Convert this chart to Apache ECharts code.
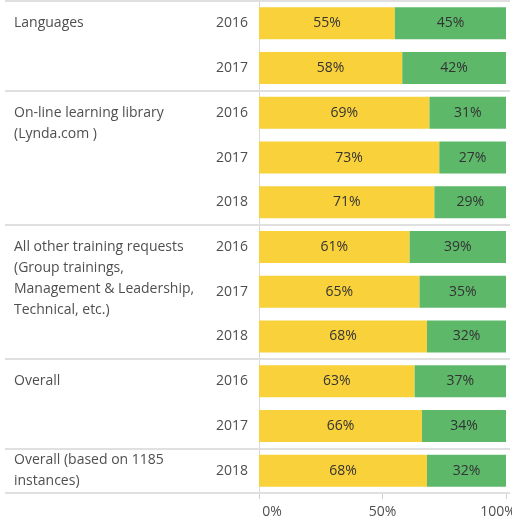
<!DOCTYPE html>
<html>
<head>
<meta charset="utf-8">
<script src="https://cdn.jsdelivr.net/npm/echarts@6/dist/echarts.min.js"></script>
<style>
  html, body { margin: 0; padding: 0; background: #ffffff; }
  #chart { width: 512px; height: 522px; }
</style>
</head>
<body>
<div id="chart"></div>
<script>
// One row per survey year; a group name appears on the first row of its group.
const years = ['2016', '2017', '2016', '2017', '2018', '2016', '2017', '2018', '2016', '2017', '2018'];
const groupNames = [
  'Languages', '',
  'On-line learning library\n(Lynda.com )', '', '',
  'All other training requests\n(Group trainings,\nManagement & Leadership,\nTechnical, etc.)', '', '',
  'Overall', '',
  'Overall (based on 1185\ninstances)'
];
const yesShare = [55, 58, 69, 73, 71, 61, 65, 68, 63, 66, 68];
const noShare  = [45, 42, 31, 27, 29, 39, 35, 32, 37, 34, 32];
const xTicks = [0, 50, 100];

const YELLOW = '#F9D13B';
const GREEN = '#5DB86A';
const LABEL_GRAY = '#4f4f4f';
const RULE_GRAY = '#e0e0e0';
const FONT = 'Open Sans';

// Group boundaries (row indices) for the horizontal separators
const boundaries = [];
groupNames.forEach((g, i) => { if (g) boundaries.push(i); });
boundaries.push(groupNames.length);

// Number of rows covered by the group starting at a given row
function groupSpan(index) {
  const k = boundaries.indexOf(index);
  return boundaries[k + 1] - boundaries[k];
}

// Multi-row groups keep the first line of their name level with the first row
// (padding with blank lines so that line sits at the vertical middle);
// single-row groups centre the whole name on the row.
function placeGroupName(text, index) {
  if (!text) return '';
  const n = text.split('\n').length;
  if (groupSpan(index) === 1) return text;
  return '\n'.repeat(n - 1) + text;
}

const chart = echarts.init(document.getElementById('chart'), null, { renderer: 'canvas' });

const option = {
  animation: false,
  textStyle: { fontFamily: FONT },
  grid: [
    { left: 259, right: 6, top: 1, bottom: 29, containLabel: false, outerBoundsMode: 'none' },
    { left: 5, right: 2, top: 1, bottom: 29, containLabel: false, outerBoundsMode: 'none' }
  ],
  xAxis: [
    {
      gridIndex: 0,
      type: 'value',
      min: 0,
      max: 100,
      interval: 50,
      axisLine: { show: false },
      axisTick: { show: true, length: 6, lineStyle: { color: '#d0d0d0', width: 1 } },
      splitLine: { show: false },
      axisLabel: {
        margin: 12,
        color: LABEL_GRAY,
        fontSize: 14,
        fontFamily: FONT,
        formatter: function (v) {
          if (v === xTicks[0]) return '{lo|' + v + '%}';
          if (v === xTicks[xTicks.length - 1]) return '{hi|' + v + '%}';
          return v + '%';
        },
        rich: {
          lo: { color: LABEL_GRAY, fontSize: 14, fontFamily: FONT, padding: [0, 0, 0, 26] },
          hi: { color: LABEL_GRAY, fontSize: 14, fontFamily: FONT, padding: [0, 16, 0, 0] }
        }
      }
    },
    {
      gridIndex: 1,
      type: 'value',
      min: 0,
      max: 1,
      show: false
    }
  ],
  yAxis: [
    {
      gridIndex: 0,
      type: 'category',
      inverse: true,
      data: years,
      position: 'left',
      axisLine: { show: true, lineStyle: { color: '#d9d9d9', width: 1 } },
      axisTick: { show: false },
      splitLine: { show: false },
      axisLabel: {
        margin: 11,
        color: LABEL_GRAY,
        fontSize: 14,
        fontFamily: FONT,
        interval: 0
      }
    },
    {
      gridIndex: 0,
      type: 'category',
      inverse: true,
      data: groupNames,
      position: 'left',
      axisLine: { show: false },
      axisTick: { show: false },
      splitLine: { show: false },
      axisLabel: {
        interval: 0,
        margin: 245,
        align: 'left',
        verticalAlign: 'middle',
        color: LABEL_GRAY,
        fontSize: 14,
        lineHeight: 21,
        fontFamily: FONT,
        formatter: function (v, i) { return placeGroupName(v, i); }
      }
    },
    {
      gridIndex: 1,
      type: 'value',
      min: 0,
      max: groupNames.length,
      inverse: true,
      show: false
    }
  ],
  series: [
    {
      name: 'Yes',
      type: 'bar',
      stack: 'share',
      xAxisIndex: 0,
      yAxisIndex: 0,
      barWidth: 32,
      itemStyle: { color: YELLOW },
      label: {
        show: true,
        position: 'inside',
        formatter: '{c}%',
        color: '#333333',
        fontSize: 14,
        fontFamily: FONT
      },
      data: yesShare
    },
    {
      name: 'No',
      type: 'bar',
      stack: 'share',
      xAxisIndex: 0,
      yAxisIndex: 0,
      barWidth: 32,
      itemStyle: { color: GREEN },
      label: {
        show: true,
        position: 'inside',
        formatter: '{c}%',
        color: '#333333',
        fontSize: 14,
        fontFamily: FONT
      },
      data: noShare
    },
    {
      // Horizontal rules separating the groups, across the full width
      name: 'separators',
      type: 'scatter',
      xAxisIndex: 1,
      yAxisIndex: 2,
      data: [],
      silent: true,
      markLine: {
        silent: true,
        symbol: ['none', 'none'],
        label: { show: false },
        lineStyle: { color: RULE_GRAY, type: 'solid', width: 2 },
        data: boundaries.map(b => ({ yAxis: b }))
      }
    }
  ]
};

chart.setOption(option);
</script>
</body>
</html>
